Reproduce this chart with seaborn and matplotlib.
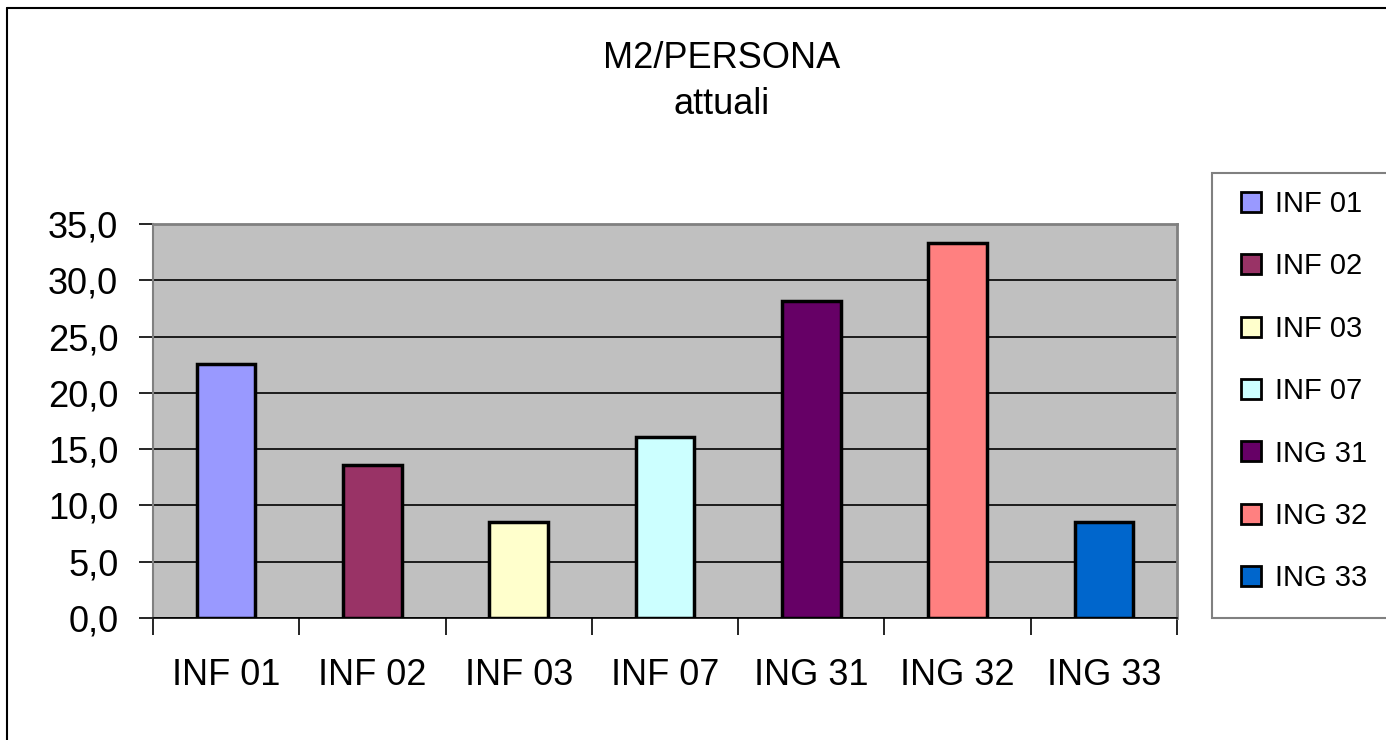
import matplotlib
matplotlib.use("Agg")
import matplotlib.pyplot as plt
from matplotlib.patches import Patch, Rectangle
from matplotlib.lines import Line2D
from matplotlib.ticker import FixedLocator, FuncFormatter
import seaborn as sns

# ── Data ──────────────────────────────────────────────────────────────────────
categories = ["INF 01", "INF 02", "INF 03", "INF 07", "ING 31", "ING 32", "ING 33"]
values     = [22.6, 13.6, 8.5, 16.1, 28.2, 33.3, 8.5]
colors     = ["#9999FF", "#993366", "#FFFFCC", "#CCFFFF", "#660066", "#FF8080", "#0066CC"]
y_ticks    = [0, 5, 10, 15, 20, 25, 30, 35]

sns.set_theme(style="white")
plt.rcParams["font.family"] = ["Liberation Sans", "DejaVu Sans"]
plt.rcParams["text.color"] = "black"

W, H = 1386, 740
fig = plt.figure(figsize=(W / 100, H / 100), dpi=100, facecolor="white")
ax = fig.add_axes([153 / W, 1 - 618 / H, 1024 / W, 394 / H])
ax.set_facecolor("#C0C0C0")

sns.barplot(x=categories, y=values, hue=categories, palette=colors,
            saturation=1, width=0.4, edgecolor="black", linewidth=2.5,
            legend=False, ax=ax, zorder=3)

ax.set_ylim(0, 35)
ax.set_xlim(-0.5, len(categories) - 0.5)
ax.yaxis.set_major_locator(FixedLocator(y_ticks))
ax.yaxis.set_major_formatter(FuncFormatter(lambda v, _: f"{v:.1f}".replace(".", ",")))
ax.yaxis.grid(True, color="black", linewidth=1.2, zorder=0)
ax.set_axisbelow(True)
ax.set_xlabel("")
ax.set_ylabel("")

# x ticks at category boundaries, labels centred
ax.xaxis.set_minor_locator(FixedLocator([i - 0.5 for i in range(len(categories) + 1)]))
ax.tick_params(axis="x", which="major", length=0, pad=29, labelsize=26, labelcolor="black")
ax.tick_params(axis="x", which="minor", length=12, width=1.2, color="black", bottom=True)
ax.tick_params(axis="y", length=10, width=1.2, color="black", left=True,
               pad=15, labelsize=26, labelcolor="black")

for side in ["top", "right"]:
    ax.spines[side].set_color("#808080")
    ax.spines[side].set_linewidth(2)
ax.spines["left"].set_color("#808080")
ax.spines["left"].set_linewidth(1.5)
ax.spines["bottom"].set_color("black")
ax.spines["bottom"].set_linewidth(1.2)

# Title
fig.text(722 / W, 1 - 58 / H, "M2/PERSONA", ha="center", va="center", fontsize=26)
fig.text(722 / W, 1 - 105 / H, "attuali", ha="center", va="center", fontsize=26)

# Outer chart frame (only top and left visible)
fig.add_artist(Line2D([7 / W, 7 / W], [-0.1, 1 - 8 / H], color="black", lw=1.5,
                      transform=fig.transFigure))
fig.add_artist(Line2D([7 / W, 1.1], [1 - 8 / H, 1 - 8 / H], color="black", lw=1.5,
                      transform=fig.transFigure))

# Legend box
fig.add_artist(Rectangle((1212 / W, 1 - 618 / H), 300 / W, 445 / H,
                         transform=fig.transFigure, facecolor="white",
                         edgecolor="#808080", lw=1.5))
handles = [Patch(facecolor=c, edgecolor="black", linewidth=2) for c in colors]
fig.legend(handles, categories, loc="upper left",
           bbox_to_anchor=(1241 / W, 1 - 190 / H), frameon=False,
           fontsize=21, handlelength=0.68, handleheight=0.68,
           handletextpad=0.5, labelspacing=1.18, borderpad=0, borderaxespad=0)

fig.savefig("out.png", dpi=100, facecolor="white")
